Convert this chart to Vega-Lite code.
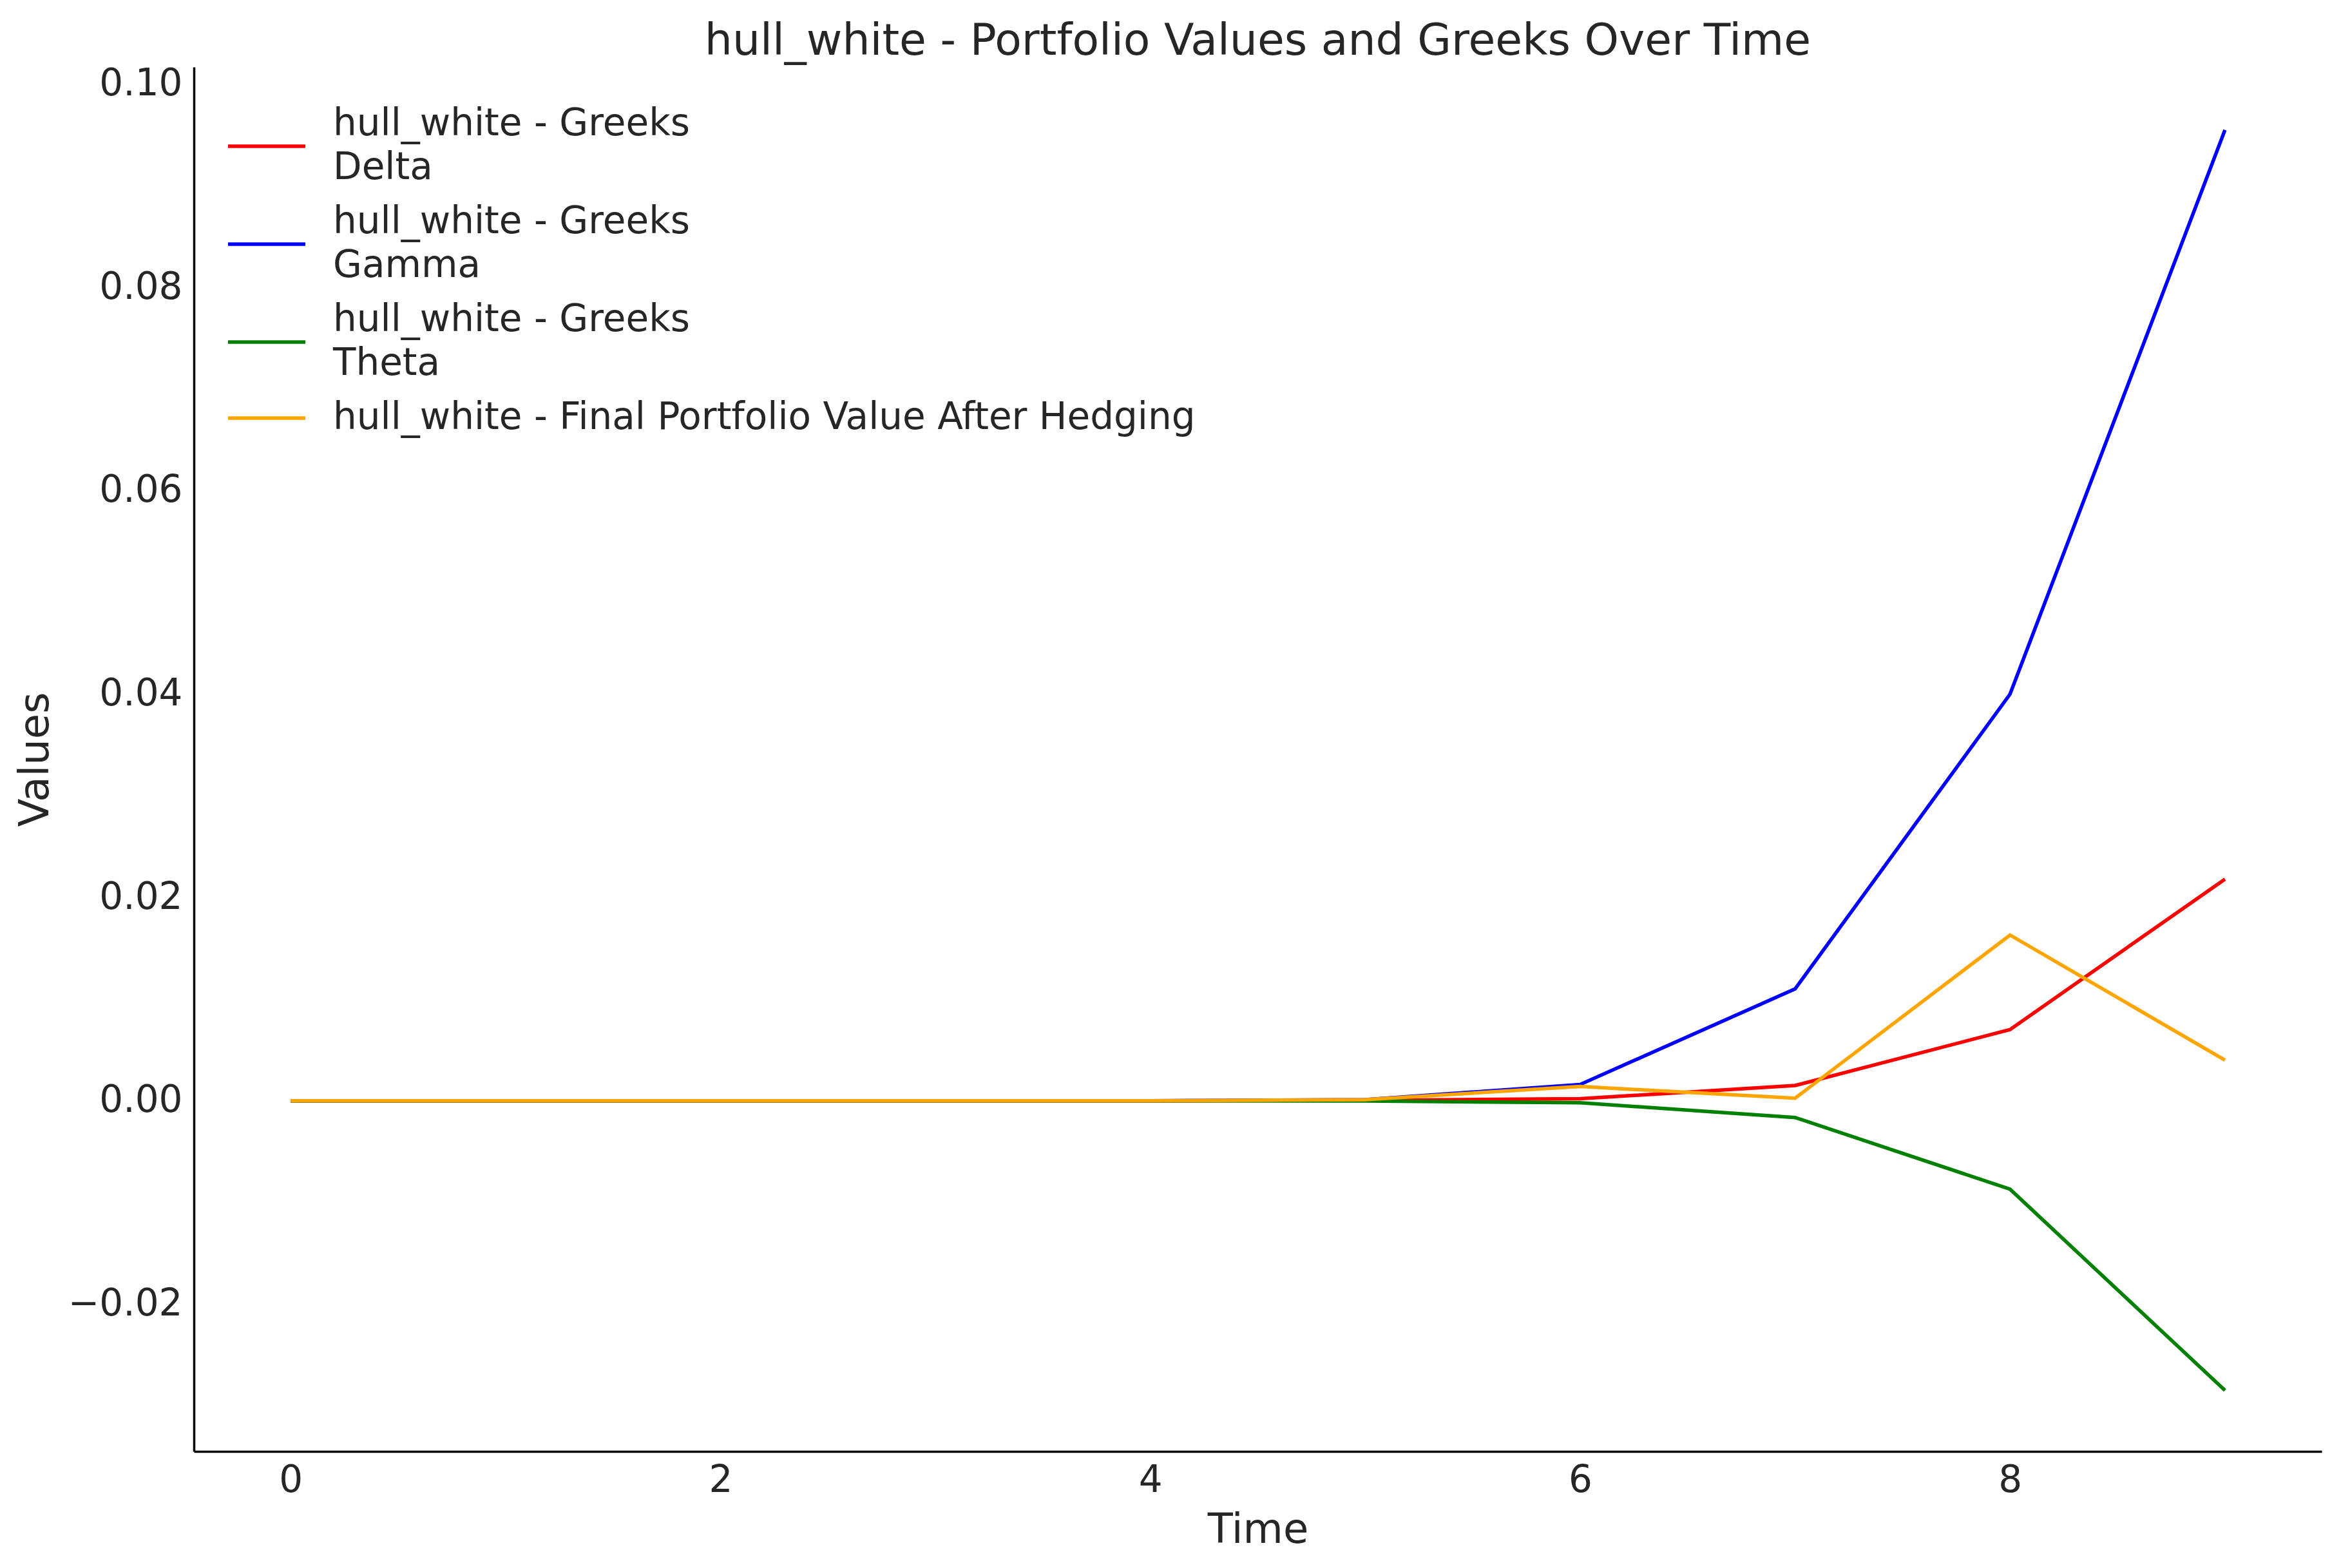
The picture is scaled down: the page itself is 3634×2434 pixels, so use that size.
{
  "$schema": "https://vega.github.io/schema/vega-lite/v6.json",
  "width": 3303,
  "height": 2149,
  "autosize": {"type": "none"},
  "padding": {"left": 301, "top": 104, "right": 30, "bottom": 181},
  "background": "white",
  "config": {
    "view": {"stroke": null},
    "font": "DejaVu Sans",
    "axis": {
      "grid": false,
      "ticks": false,
      "domainColor": "black",
      "domainWidth": 3.5,
      "labelFont": "DejaVu Sans",
      "labelFontSize": 58,
      "labelColor": "#262626",
      "titleFont": "DejaVu Sans",
      "titleFontSize": 64,
      "titleFontWeight": "normal",
      "titleColor": "#262626"
    },
    "legend": {
      "title": null,
      "orient": "none",
      "padding": 0,
      "symbolType": "stroke",
      "symbolSize": 14400,
      "symbolStrokeWidth": 5.5,
      "labelOffset": 40,
      "labelFont": "DejaVu Sans",
      "labelFontSize": 58,
      "labelColor": "#262626",
      "labelLimit": 3000,
      "rowPadding": 26
    }
  },
  "title": {
    "text": "hull_white - Portfolio Values and Greeks Over Time",
    "font": "DejaVu Sans",
    "fontSize": 68,
    "fontWeight": "normal",
    "color": "#262626",
    "anchor": "middle",
    "offset": 3
  },
  "data": {
    "values": [
      {"time": 0, "series": "hull_white - Greeks\nDelta", "value": 0},
      {"time": 1, "series": "hull_white - Greeks\nDelta", "value": 0},
      {"time": 2, "series": "hull_white - Greeks\nDelta", "value": 0},
      {"time": 3, "series": "hull_white - Greeks\nDelta", "value": 0},
      {"time": 4, "series": "hull_white - Greeks\nDelta", "value": 0},
      {"time": 5, "series": "hull_white - Greeks\nDelta", "value": 0.00003},
      {"time": 6, "series": "hull_white - Greeks\nDelta", "value": 0.0002},
      {"time": 7, "series": "hull_white - Greeks\nDelta", "value": 0.0015},
      {"time": 8, "series": "hull_white - Greeks\nDelta", "value": 0.0070},
      {"time": 9, "series": "hull_white - Greeks\nDelta", "value": 0.0218},
      {"time": 0, "series": "hull_white - Greeks\nGamma", "value": 0},
      {"time": 1, "series": "hull_white - Greeks\nGamma", "value": 0},
      {"time": 2, "series": "hull_white - Greeks\nGamma", "value": 0},
      {"time": 3, "series": "hull_white - Greeks\nGamma", "value": 0},
      {"time": 4, "series": "hull_white - Greeks\nGamma", "value": 0},
      {"time": 5, "series": "hull_white - Greeks\nGamma", "value": 0.0001},
      {"time": 6, "series": "hull_white - Greeks\nGamma", "value": 0.0016},
      {"time": 7, "series": "hull_white - Greeks\nGamma", "value": 0.0110},
      {"time": 8, "series": "hull_white - Greeks\nGamma", "value": 0.0400},
      {"time": 9, "series": "hull_white - Greeks\nGamma", "value": 0.0955},
      {"time": 0, "series": "hull_white - Greeks\nTheta", "value": 0},
      {"time": 1, "series": "hull_white - Greeks\nTheta", "value": 0},
      {"time": 2, "series": "hull_white - Greeks\nTheta", "value": 0},
      {"time": 3, "series": "hull_white - Greeks\nTheta", "value": 0},
      {"time": 4, "series": "hull_white - Greeks\nTheta", "value": 0},
      {"time": 5, "series": "hull_white - Greeks\nTheta", "value": -0.00003},
      {"time": 6, "series": "hull_white - Greeks\nTheta", "value": -0.0002},
      {"time": 7, "series": "hull_white - Greeks\nTheta", "value": -0.00165},
      {"time": 8, "series": "hull_white - Greeks\nTheta", "value": -0.0087},
      {"time": 9, "series": "hull_white - Greeks\nTheta", "value": -0.0285},
      {"time": 0, "series": "hull_white - Final Portfolio Value After Hedging", "value": 0},
      {"time": 1, "series": "hull_white - Final Portfolio Value After Hedging", "value": 0},
      {"time": 2, "series": "hull_white - Final Portfolio Value After Hedging", "value": 0},
      {"time": 3, "series": "hull_white - Final Portfolio Value After Hedging", "value": 0},
      {"time": 4, "series": "hull_white - Final Portfolio Value After Hedging", "value": 0},
      {"time": 5, "series": "hull_white - Final Portfolio Value After Hedging", "value": 0.0001},
      {"time": 6, "series": "hull_white - Final Portfolio Value After Hedging", "value": 0.0014},
      {"time": 7, "series": "hull_white - Final Portfolio Value After Hedging", "value": 0.00025},
      {"time": 8, "series": "hull_white - Final Portfolio Value After Hedging", "value": 0.0163},
      {"time": 9, "series": "hull_white - Final Portfolio Value After Hedging", "value": 0.0040}
    ]
  },
  "encoding": {
    "x": {
      "field": "time",
      "type": "quantitative",
      "scale": {"domain": [-0.45, 9.45], "nice": false, "zero": false},
      "axis": {"title": "Time", "values": [0, 2, 4, 6, 8], "format": "d", "labelPadding": 16, "titlePadding": 16, "orient": "bottom"}
    },
    "y": {
      "field": "value",
      "type": "quantitative",
      "scale": {"domain": [-0.0345, 0.1017], "nice": false, "zero": false},
      "axis": {"title": "Values", "values": [-0.02, 0, 0.02, 0.04, 0.06, 0.08, 0.1], "format": ".2f", "labelExpr": "replace(datum.label, '-', '\u2212')", "labelPadding": 18, "titlePadding": 18}
    }
  },
  "layer": [
    {
      "transform": [{"filter": "datum.series !== 'hull_white - Final Portfolio Value After Hedging'"}],
      "mark": {"type": "line", "strokeWidth": 5.5, "strokeCap": "butt"},
      "encoding": {
        "color": {
          "field": "series",
          "type": "nominal",
          "sort": null,
          "scale": {
            "domain": ["hull_white - Greeks\nDelta", "hull_white - Greeks\nGamma", "hull_white - Greeks\nTheta"],
            "range": ["#ff0000", "#0000ff", "#008000"]
          },
          "legend": {
            "legendX": 50,
            "legendY": 60,
            "labelExpr": "split(datum.label, '\\n')",
            "encode": {
              "labels": {
                "update": {
                  "lineHeight": {"value": 68},
                  "dy": {"value": -34}
                }
              }
            }
          }
        }
      }
    },
    {
      "transform": [{"filter": "datum.series === 'hull_white - Final Portfolio Value After Hedging'"}],
      "mark": {"type": "line", "strokeWidth": 5.5, "strokeCap": "butt"},
      "encoding": {
        "color": {
          "field": "series",
          "type": "nominal",
          "scale": {
            "domain": ["hull_white - Final Portfolio Value After Hedging"],
            "range": ["#ffa500"]
          },
          "legend": {
            "legendX": 50,
            "legendY": 482
          }
        }
      }
    }
  ],
  "resolve": {"scale": {"color": "independent"}}
}
